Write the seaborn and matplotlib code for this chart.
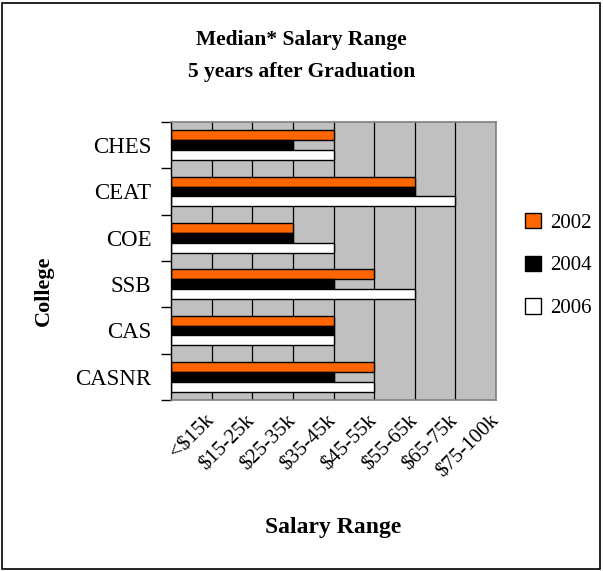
import pandas as pd
import seaborn as sns
import matplotlib.pyplot as plt
from matplotlib.patches import Rectangle

# data (index into salary ranges, 1 = "<$15k")
colleges = ["CHES", "CEAT", "COE", "SSB", "CAS", "CASNR"]
ranges = ["<$15k", "$15-25k", "$25-35k", "$35-45k", "$45-55k",
          "$55-65k", "$65-75k", "$75-100k"]
years = ["2002", "2004", "2006"]
val_2002 = [4, 6, 3, 5, 4, 5]
val_2004 = [3, 6, 3, 4, 4, 4]
val_2006 = [4, 7, 4, 6, 4, 5]

df = pd.DataFrame({
    "College": colleges * 3,
    "Range": val_2002 + val_2004 + val_2006,
    "Year": [y for y in years for _ in colleges],
})

sns.set_style("white")
plt.rcParams["font.family"] = ["Liberation Serif", "DejaVu Serif"]
for k in ["text.color", "axes.labelcolor", "xtick.color", "ytick.color"]:
    plt.rcParams[k] = "black"

fig = plt.figure(figsize=(6.03, 5.71), dpi=100)
ax = fig.add_axes([0.2836, 0.2995, 0.539, 0.4869])

sns.barplot(data=df, x="Range", y="College", hue="Year", orient="h",
            palette=["#FF6600", "#000000", "#FFFFFF"], width=0.64,
            edgecolor="black", linewidth=1, saturation=1, ax=ax, legend=True)

ax.set_facecolor("#C0C0C0")
ax.set_xlim(0, 8)
ax.set_ylim(5.5, -0.5)
ax.set_axisbelow(True)
ax.grid(axis="x", color="black", lw=0.9)
ax.grid(axis="y", visible=False)
for s in ["top", "right", "bottom"]:
    ax.spines[s].set_color("#808080")
    ax.spines[s].set_linewidth(1.2)
ax.spines["left"].set_color("black")
ax.spines["left"].set_linewidth(1)

ax.set_xticks(range(1, 9))
ax.set_xticklabels(ranges, rotation=45, ha="right", va="center",
                   rotation_mode="anchor", fontsize=15)
ax.tick_params(axis="x", length=0, pad=13)
ax.set_yticks(range(len(colleges)))
ax.set_yticklabels(colleges, fontsize=16.5)
ax.set_yticks([i - 0.5 for i in range(len(colleges) + 1)], minor=True)
ax.tick_params(axis="y", which="major", length=0, pad=14)
ax.tick_params(axis="y", which="minor", length=7, width=1, color="black",
               direction="out", left=True)

ax.set_xlabel("Salary Range", fontsize=17, fontweight="bold")
ax.xaxis.set_label_coords(0.5, -0.421)
ax.set_ylabel("College", fontsize=16, fontweight="bold")
ax.yaxis.set_label_coords(-0.36, 0.392)

handles, labels = ax.get_legend_handles_labels()
ax.get_legend().remove()
fig.legend(handles, labels, loc="center left", bbox_to_anchor=(0.84, 0.535),
           frameon=False, fontsize=15, handlelength=0.75, handleheight=0.75,
           handletextpad=0.45, labelspacing=1.1)

fig.text(0.5, 0.902, "Median* Salary Range\n5 years after Graduation",
         ha="center", va="center", fontsize=15.5, fontweight="bold",
         linespacing=1.75)

fig.patches.append(Rectangle((0.003, 0.004), 0.992, 0.99, transform=fig.transFigure,
                             fill=False, edgecolor="black", lw=1.2))

fig.savefig("out.png", dpi=100)
